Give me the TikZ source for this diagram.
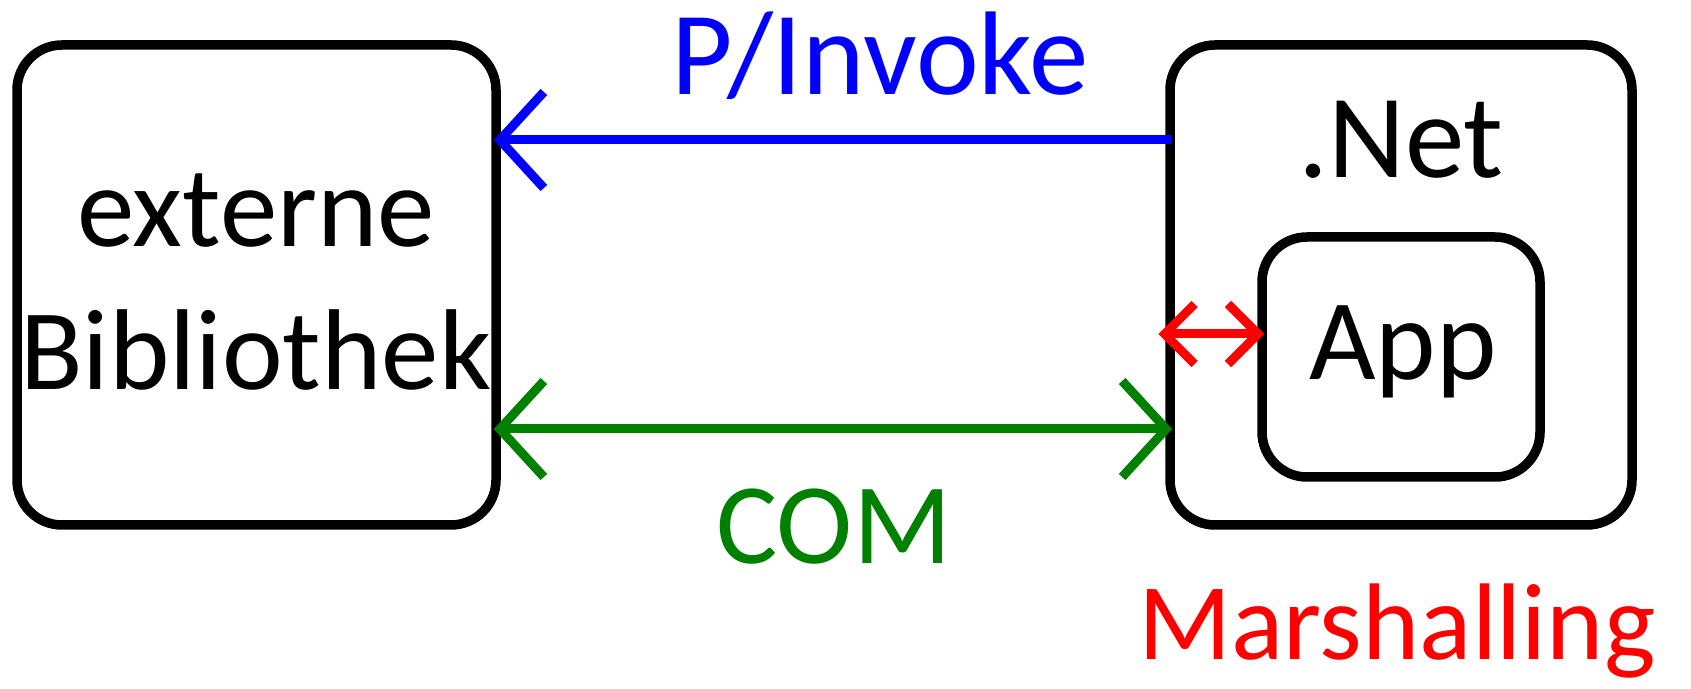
\documentclass[tikz,border=0pt]{standalone}
\usepackage{fontspec}
\setmainfont{Carlito}
\usetikzlibrary{arrows.meta}

\begin{document}
\begin{tikzpicture}[x=1pt, y=1pt,
		box/.style={draw, line width=9.5pt, rounded corners=45pt, inner sep=0pt},
		lbl/.style={font=\fontsize{115}{143}\selectfont, inner sep=0pt, anchor=base},
		link/.style={line width=9pt, shorten <=-7pt, shorten >=-7pt, >={Straight Barb[length=44pt,width=96pt]}}]
			%%%%% START %%%%%
			\useasboundingbox (0,0) rectangle (1691,688);
			
			\node[box, minimum width=479pt, minimum height=480pt] (lib) at (256.5,403) {};
			\node[box, minimum width=462pt, minimum height=480pt] (net) at (1401,403) {};
			\node[box, minimum width=278pt, minimum height=240pt] (app) at (1401,331) {};
			
			\node[lbl, align=center] (libtext) at (256,298) {externe\\Bibliothek};
			\node[lbl, font=\fontsize{119}{143}\selectfont] (nettext) at (1401,510) {.Net};
			\node[lbl] (apptext) at (1403,308) {App};
			
			\draw[link, blue, <-] ([yshift=145pt]lib.east) -- ([yshift=145pt]net.west);
			\draw[link, green!50!black, <->] ([yshift=-144pt]lib.east) -- ([yshift=-144pt]net.west);
			\coordinate (marsh) at ([yshift=23pt]app.west);
			\draw[link, red, >={Straight Barb[length=30pt,width=60pt]}, <->] (marsh -| net.west) -- (marsh);
			
			\node[lbl, text=red, font=\fontsize{109}{143}\selectfont] (marshal) at (1397,29) {Marshalling};
			\node[lbl, text=blue, font=\fontsize{119}{143}\selectfont] (pinvoke) at (880,593) {P/Invoke};
			\node[lbl, text=green!50!black] (com) at (834,124) {COM};
			
			%%%%% END %%%%%
		\end{tikzpicture}
\end{document}
